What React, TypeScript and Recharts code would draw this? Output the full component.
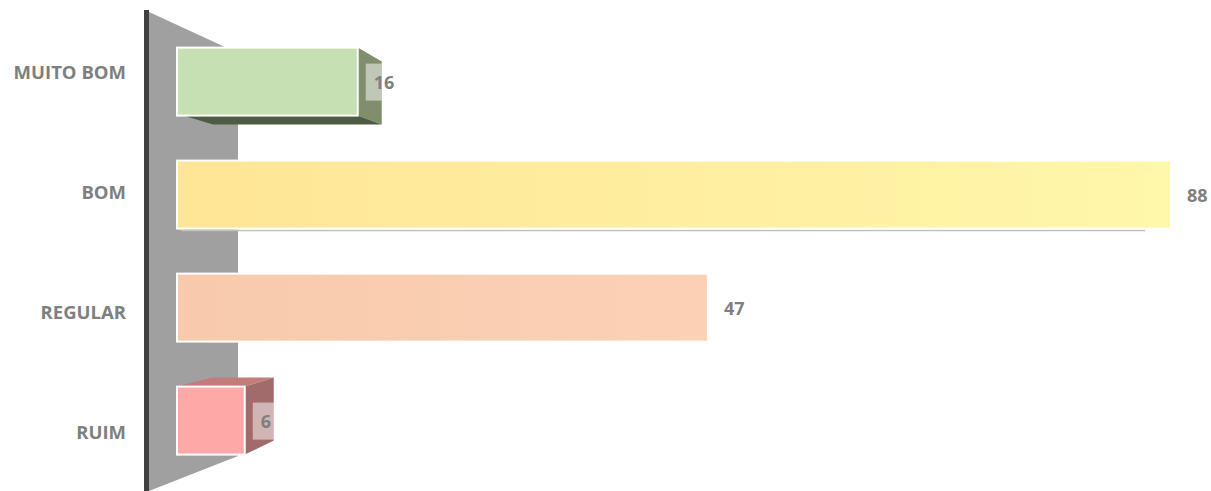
import { BarChart, Bar, XAxis, YAxis, LabelList } from 'recharts';

const categories = ['MUITO BOM', 'BOM', 'REGULAR', 'RUIM'];
const counts = [16, 88, 47, 6];

const data = categories.map((name, i) => ({ name, value: counts[i] }));

const frontStart = ['#c6e0b4', '#ffe596', '#f8caab', '#ffa8a8'];
const frontEnd = ['#c6e0b4', '#fff7a9', '#fbd1b6', '#ffa8a8'];

const LABEL = '#7f7f7f';
const FONT = '"Open Sans", "Liberation Sans", sans-serif';

function pts(list: number[][]) {
  return list.map((p) => p.join(',')).join(' ');
}

function Bar3D(props: any) {
  const { x, y, width: w, height: h, index } = props;
  const id = `g${index}`;
  return (
    <g>
      <defs>
        <linearGradient id={id} x1="0" y1="0" x2="1" y2="0">
          <stop offset="0%" stopColor={frontStart[index]} />
          <stop offset="100%" stopColor={frontEnd[index]} />
        </linearGradient>
      </defs>
      {index === 0 && (
        <>
          <polygon
            points={pts([[x + w, y], [x + w + 24, y + 14], [x + w + 24, y + h + 9], [x + w, y + h]])}
            fill="#7f8f6c"
          />
          <polygon
            points={pts([[x + 6, y + h], [x + w, y + h], [x + w + 24, y + h + 9], [x + 36, y + h + 9]])}
            fill="#4f5c45"
          />
        </>
      )}
      {index === 3 && (
        <>
          <polygon
            points={pts([[x, y], [x + 35, y - 9], [x + w + 29, y - 9], [x + w, y]])}
            fill="#c47b7b"
          />
          <polygon
            points={pts([[x + w, y], [x + w + 29, y - 9], [x + w + 29, y + h - 14], [x + w, y + h]])}
            fill="#a26b6b"
          />
        </>
      )}
      {index === 1 && (
        <line x1={x + 4} y1={y + h + 2} x2={x + w - 26} y2={y + h + 2} stroke="#c4bdb4" strokeWidth={1.5} />
      )}
      <rect x={x} y={y} width={w} height={h} fill={`url(#${id})`} stroke="#ffffff" strokeWidth={2} />
    </g>
  );
}

function ValueLabel(props: any) {
  const { x, y, width: w, height: h, value, index } = props;
  const boxed = index === 0 || index === 3;
  const depth = index === 3 ? 30 : 24;
  return (
    <g>
      {boxed && (
        <rect x={x + w + 8} y={y + 16} width={depth - 8} height={37} fill="#ffffff" fillOpacity={0.5} />
      )}
      <text
        x={x + w + 16}
        y={y + h / 2}
        dominantBaseline="central"
        fill={LABEL}
        fontFamily={FONT}
        fontWeight={700}
        fontSize={18}
      >
        {value}
      </text>
    </g>
  );
}

function CategoryTick(props: any) {
  const { y, payload, index } = props;
  const shift = (index - 1.5) * 7;
  return (
    <text
      x={126}
      y={y + shift}
      textAnchor="end"
      dominantBaseline="central"
      fill={LABEL}
      fontFamily={FONT}
      fontWeight={700}
      fontSize={18.5}
    >
      {payload.value}
    </text>
  );
}

export default function App() {
  return (
    <div style={{ position: 'absolute', left: 0, top: 0, width: 1211, height: 491, background: '#fff' }}>
      <svg width={1211} height={491} style={{ position: 'absolute', left: 0, top: 0 }}>
        <polygon points="149,12 238,53 238,456 149,491" fill="#a0a0a0" />
        <rect x={144} y={10} width={5} height={481} fill="#404040" />
      </svg>
      <div style={{ position: 'absolute', left: 0, top: 0 }}>
        <BarChart
          width={1211}
          height={491}
          data={data}
          layout="vertical"
          margin={{ top: 25, right: 40, left: 0, bottom: 14 }}
          barCategoryGap="20%"
        >
          <XAxis type="number" domain={[0, 88]} hide />
          <YAxis
            type="category"
            dataKey="name"
            width={177}
            axisLine={false}
            tickLine={false}
            tick={<CategoryTick />}
          />
          <Bar dataKey="value" isAnimationActive={false} shape={<Bar3D />}>
            <LabelList dataKey="value" content={<ValueLabel />} />
          </Bar>
        </BarChart>
      </div>
    </div>
  );
}
